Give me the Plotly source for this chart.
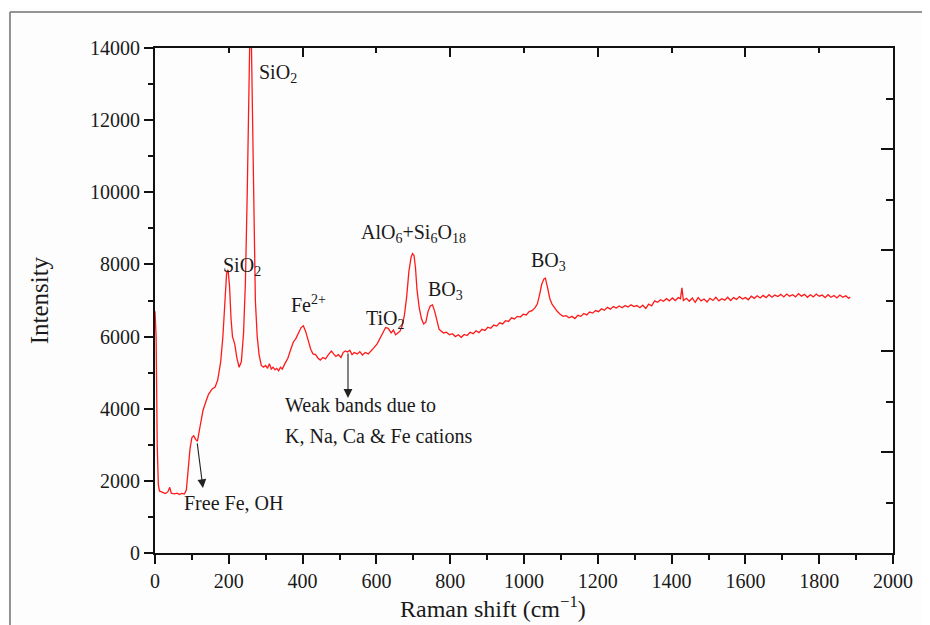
import plotly.graph_objects as go

# ---- data ----
raman_shift = [0, 3, 6, 9, 12, 20, 28, 35, 40, 44, 52, 60, 66, 72, 80, 85, 90, 95, 100, 105,
               110, 115, 122, 130, 138, 145, 155, 163, 170, 178, 184, 189, 194, 198, 202, 206, 210, 216, 222, 228,
               234, 240, 245, 250, 254, 257, 261, 264, 268, 272, 277, 282, 288, 294, 300, 305, 310, 315, 320, 325,
               330, 335, 340, 345, 352, 360, 368, 375, 382, 390, 396, 402, 408, 415, 422, 428, 435, 442, 448, 455,
               462, 470, 478, 484, 490, 497, 504, 510, 516, 522, 528, 534, 540, 548, 555, 562, 570, 578, 586, 594,
               602, 610, 618, 625, 632, 640, 646, 652, 658, 664, 670, 676, 682, 688, 694, 698, 702, 706, 710, 716,
               722, 728, 734, 740, 746, 752, 758, 764, 770, 776, 782, 790, 798, 806, 814, 822, 830, 838, 846, 854,
               862, 870, 878, 886, 894, 902, 910, 918, 926, 934, 942, 950, 958, 966, 974, 982, 990, 998, 1006, 1014,
               1022, 1030, 1036, 1042, 1048, 1054, 1058, 1064, 1070, 1076, 1082, 1090, 1098, 1106, 1114, 1122, 1130, 1138, 1146, 1154,
               1162, 1170, 1178, 1186, 1194, 1202, 1210, 1218, 1226, 1234, 1242, 1250, 1258, 1266, 1274, 1282, 1290, 1298, 1306, 1314,
               1322, 1330, 1338, 1346, 1354, 1362, 1370, 1378, 1386, 1394, 1402, 1410, 1418, 1424, 1428, 1432, 1440, 1448, 1456, 1464,
               1472, 1480, 1488, 1496, 1504, 1512, 1520, 1528, 1536, 1544, 1552, 1560, 1568, 1576, 1584, 1592, 1600, 1608, 1616, 1624,
               1632, 1640, 1648, 1656, 1664, 1672, 1680, 1688, 1696, 1704, 1712, 1720, 1728, 1736, 1744, 1752, 1760, 1768, 1776, 1784,
               1792, 1800, 1808, 1816, 1824, 1832, 1840, 1848, 1856, 1864, 1872, 1880, 1884]

intensity = [6700, 6000, 3000, 1900, 1720, 1680, 1650, 1700, 1820, 1660, 1640, 1660, 1620, 1650, 1640, 1750, 2300, 2900, 3200, 3250,
             3150, 3100, 3500, 3950, 4200, 4400, 4550, 4600, 4800, 5300, 6000, 7000, 7750, 7850, 7400, 6500, 6000, 5800, 5400, 5150,
             5300, 6100, 7500, 10000, 13000, 14300, 14300, 12000, 9000, 7000, 6000, 5500, 5200, 5150, 5200, 5120, 5250, 5100, 5150, 5080,
             5120, 5050, 5150, 5100, 5250, 5400, 5650, 5850, 5950, 6100, 6250, 6300, 6150, 5900, 5650, 5520, 5500, 5400, 5350, 5420,
             5380, 5500, 5600, 5520, 5450, 5500, 5420, 5560, 5600, 5570, 5620, 5500, 5560, 5520, 5580, 5490, 5560, 5520, 5600, 5700,
             5800, 5950, 6100, 6250, 6230, 6100, 6180, 6050, 6100, 6150, 6300, 6600, 7100, 7800, 8200, 8300, 8250, 7900, 7300, 6800,
             6500, 6350, 6400, 6700, 6850, 6880, 6700, 6400, 6200, 6150, 6100, 6120, 6050, 6080, 6000, 6050, 5980, 6060, 6030, 6120,
             6080, 6160, 6110, 6200, 6170, 6260, 6230, 6320, 6290, 6380, 6350, 6440, 6420, 6520, 6490, 6560, 6540, 6620, 6600, 6690,
             6720, 6800, 6900, 7150, 7450, 7600, 7620, 7350, 7050, 6900, 6800, 6700, 6620, 6560, 6580, 6520, 6560, 6500, 6590, 6560,
             6640, 6600, 6680, 6650, 6720, 6690, 6770, 6730, 6810, 6760, 6830, 6790, 6850, 6800, 6860, 6820, 6880, 6830, 6860, 6800,
             6870, 6780, 6900, 6850, 6990, 6950, 7020, 6980, 7050, 6990, 7070, 7000, 7080, 7050, 7350, 7000, 7060, 6980, 7070, 6950,
             7080, 6990, 7040, 6960, 7060, 7000, 7090, 6990, 7050, 7010, 7090, 7000, 7080, 7030, 7110, 7040, 7080, 7020, 7120, 7060,
             7130, 7070, 7140, 7080, 7160, 7090, 7150, 7110, 7170, 7100, 7180, 7120, 7160, 7100, 7190, 7120, 7170, 7090, 7160, 7100,
             7180, 7120, 7150, 7080, 7160, 7090, 7140, 7070, 7150, 7090, 7130, 7060, 7100]

x_ticks = [0, 200, 400, 600, 800, 1000, 1200, 1400, 1600, 1800, 2000]
y_ticks = [0, 2000, 4000, 6000, 8000, 10000, 12000, 14000]

# peak labels: (text, x, y)
peak_labels = [
    ("SiO<sub>2</sub>", 276, 13300),
    ("SiO<sub>2</sub>", 180, 7950),
    ("Fe<sup>2+</sup>", 362, 6900),
    ("TiO<sub>2</sub>", 566, 6480),
    ("AlO<sub>6</sub>+Si<sub>6</sub>O<sub>18</sub>", 553, 8850),
    ("BO<sub>3</sub>", 734, 7270),
    ("BO<sub>3</sub>", 1013, 8080),
    ("Weak bands due to", 347, 4100),
    ("K, Na, Ca &amp; Fe cations", 347, 3240),
    ("Free Fe, OH", 74, 1400),
]

FONT = "Liberation Serif, Times New Roman, serif"

fig = go.Figure()
fig.add_trace(go.Scatter(x=raman_shift, y=intensity, mode="lines",
                         line=dict(color="#ff1a1a", width=1.3),
                         showlegend=False, hoverinfo="skip"))
fig.add_trace(go.Scatter(x=[], y=[], xaxis="x2", yaxis="y2", showlegend=False, hoverinfo="skip"))

for txt, xv, yv in peak_labels:
    fig.add_annotation(x=xv, y=yv, text=txt, showarrow=False, xanchor="left", yanchor="middle",
                       font=dict(family=FONT, size=20, color="#1a1a1a"))

# arrows
fig.add_annotation(x=523, y=4300, ax=523, ay=5570, axref="x", ayref="y", xref="x", yref="y",
                   text="", showarrow=True, arrowhead=2, arrowsize=1.6, arrowwidth=1.1, arrowcolor="#222")
fig.add_annotation(x=130, y=1800, ax=114, ay=3080, axref="x", ayref="y", xref="x", yref="y",
                   text="", showarrow=True, arrowhead=2, arrowsize=1.6, arrowwidth=1.1, arrowcolor="#222")

# axis titles
fig.add_annotation(x=0.458, y=-0.107, xref="paper", yref="paper", text="Raman shift (cm<sup>\u22121</sup>)",
                   xanchor="center", yanchor="middle",
                   showarrow=False, font=dict(family=FONT, size=24, color="#1a1a1a"))
fig.add_annotation(x=-0.156, y=0.50, xref="paper", yref="paper", text="Intensity", textangle=-90,
                   xanchor="center", yanchor="middle",
                   showarrow=False, font=dict(family=FONT, size=25, color="#1a1a1a"))

# outer frame (top and left edges are visible in the reference)
frame_line = dict(color="#707070", width=1.5)
fig.add_shape(type="line", xref="paper", yref="paper", x0=-0.1965, x1=1.2, y0=1.0713, y1=1.0713,
              line=frame_line, layer="below")
fig.add_shape(type="line", xref="paper", yref="paper", x0=-0.1965, x1=-0.1965, y0=-0.3, y1=1.0713,
              line=frame_line, layer="below")

tickfont = dict(family=FONT, size=20, color="#1a1a1a")
fig.update_layout(
    width=922, height=617,
    margin=dict(l=147, r=37, t=40, b=72),
    paper_bgcolor="#fdfdfd", plot_bgcolor="#fdfdfd",
    xaxis=dict(range=[0, 2000], tickvals=x_ticks, ticks="outside", ticklen=9, tickwidth=2,
               tickcolor="#111", showline=True, linewidth=2, linecolor="#111", showgrid=False,
               zeroline=False, tickfont=tickfont, tickformat="d",
               minor=dict(dtick=100, tick0=0, ticks="outside", ticklen=5, tickwidth=2, tickcolor="#111")),
    yaxis=dict(range=[0, 14000], tickvals=y_ticks, ticks="outside", ticklen=9, tickwidth=2,
               tickcolor="#111", showline=True, linewidth=2, linecolor="#111", showgrid=False,
               zeroline=False, tickfont=tickfont, tickformat="d",
               minor=dict(dtick=1000, tick0=0, ticks="outside", ticklen=5, tickwidth=2, tickcolor="#111")),
    xaxis2=dict(range=[0, 2000], overlaying="x", side="top", tick0=0, dtick=400, ticks="inside",
                ticklen=9, tickwidth=2, tickcolor="#111", showline=True, linewidth=2, linecolor="#111",
                showgrid=False, zeroline=False, showticklabels=False,
                minor=dict(dtick=200, ticks="inside", ticklen=5, tickwidth=2, tickcolor="#111")),
    yaxis2=dict(range=[0, 14000], overlaying="y", side="right", tick0=0, dtick=2800, ticks="inside",
                ticklen=12, tickwidth=2, tickcolor="#111", showline=True, linewidth=2, linecolor="#111",
                showgrid=False, zeroline=False, showticklabels=False,
                minor=dict(dtick=1400, ticks="inside", ticklen=7, tickwidth=2, tickcolor="#111")),
)

fig.write_html("out.html")
